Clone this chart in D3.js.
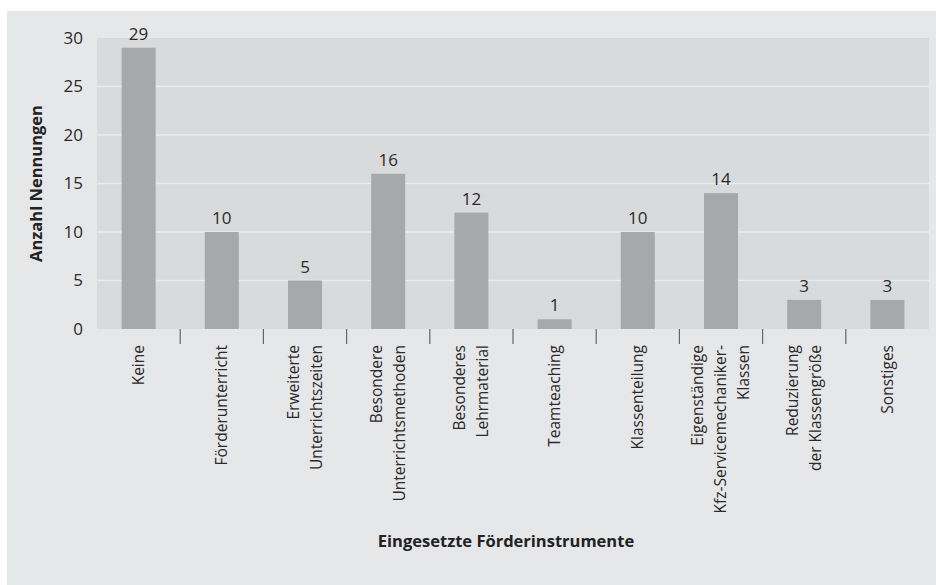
<!DOCTYPE html>
<html>
<head>
<meta charset="utf-8">
<script src="https://cdn.jsdelivr.net/npm/d3@7"></script>
<style>
    body { margin: 0; background: #fff; }
    svg { display: block; font-family: "Open Sans", "Noto Sans", sans-serif; }
</style>
</head>
<body>
<div id="chart"></div>
<script>
// categories (line breaks as in the original labels)
const categories = [
    ['Keine'],
    ['Förderunterricht'],
    ['Erweiterte', 'Unterrichtszeiten'],
    ['Besondere', 'Unterrichtsmethoden'],
    ['Besonderes', 'Lehrmaterial'],
    ['Teamteaching'],
    ['Klassenteilung'],
    ['Eigenständige', 'Kfz-Servicemechaniker-', 'Klassen'],
    ['Reduzierung', 'der Klassengröße'],
    ['Sonstiges']
];
const values = [29, 10, 5, 16, 12, 1, 10, 14, 3, 3];
const yTicks = [0, 5, 10, 15, 20, 25, 30];

const width = 936;
const height = 585;
const margin = { top: 38, right: 7, bottom: 256, left: 97 };

const svg = d3.select('#chart')
    .append('svg')
    .attr('width', width)
    .attr('height', height);

// outer panel
svg.append('rect')
    .attr('x', 7)
    .attr('y', 11)
    .attr('width', width - 7)
    .attr('height', height - 11)
    .attr('fill', '#e6e7e9');

const x = d3.scaleBand()
    .domain(d3.range(categories.length))
    .range([margin.left, width - margin.right])
    .paddingInner(0)
    .paddingOuter(0);

const y = d3.scaleLinear()
    .domain([0, 30])
    .range([height - margin.bottom, margin.top]);

// plot area
svg.append('rect')
    .attr('x', margin.left)
    .attr('y', y(30))
    .attr('width', x.range()[1] - margin.left)
    .attr('height', y(0) - y(30))
    .attr('fill', '#d9dadc');

// grid lines
svg.append('g')
    .selectAll('line')
    .data(yTicks.filter(d => d > 0 && d < 30))
    .join('line')
    .attr('x1', margin.left)
    .attr('x2', x.range()[1])
    .attr('y1', d => y(d))
    .attr('y2', d => y(d))
    .attr('stroke', '#ebecee')
    .attr('stroke-width', 1.5);

// y axis labels
const yAxis = svg.append('g')
    .attr('transform', `translate(${margin.left},0)`)
    .call(d3.axisLeft(y).tickValues(yTicks).tickSize(0).tickPadding(14));
yAxis.select('.domain').remove();
yAxis.selectAll('text')
    .attr('font-size', 17)
    .attr('fill', '#2a2a2a')
    .attr('font-family', '"Open Sans", sans-serif');

// bars
const barWidth = 34;
svg.append('g')
    .selectAll('rect')
    .data(values)
    .join('rect')
    .attr('x', (d, i) => x(i) + (x.bandwidth() - barWidth) / 2)
    .attr('y', d => y(d))
    .attr('width', barWidth)
    .attr('height', d => y(0) - y(d))
    .attr('fill', '#a7a8ab');

// value labels
svg.append('g')
    .selectAll('text')
    .data(values)
    .join('text')
    .attr('x', (d, i) => x(i) + x.bandwidth() / 2)
    .attr('y', d => y(d) - 8)
    .attr('text-anchor', 'middle')
    .attr('font-size', 17)
    .attr('fill', '#2a2a2a')
    .text(d => d);

// separator ticks between categories
svg.append('g')
    .selectAll('line')
    .data(d3.range(1, categories.length))
    .join('line')
    .attr('x1', i => x(i))
    .attr('x2', i => x(i))
    .attr('y1', y(0))
    .attr('y2', y(0) + 15)
    .attr('stroke', '#666')
    .attr('stroke-width', 1.2);

// rotated category labels
const lineGap = 23;
const labels = svg.append('g')
    .selectAll('text')
    .data(categories)
    .join('text')
    .attr('transform', (d, i) => `translate(${x(i) + x.bandwidth() / 2},${y(0) + 16}) rotate(-90)`)
    .attr('text-anchor', 'end')
    .attr('font-size', 15.5)
    .attr('fill', '#2a2a2a');

labels.each(function (lines) {
    const t = d3.select(this);
    const offset = -(lines.length - 1) / 2 * lineGap;
    lines.forEach((line, j) => {
        t.append('tspan')
            .attr('x', 0)
            .attr('y', offset + j * lineGap)
            .attr('dy', '0.35em')
            .text(line);
    });
});

// axis titles
svg.append('text')
    .attr('transform', `translate(42,${(y(0) + y(30)) / 2}) rotate(-90)`)
    .attr('text-anchor', 'middle')
    .attr('font-size', 16.5)
    .attr('font-weight', 'bold')
    .attr('fill', '#222')
    .text('Anzahl Nennungen');

svg.append('text')
    .attr('x', 506)
    .attr('y', 547)
    .attr('text-anchor', 'middle')
    .attr('font-size', 16.5)
    .attr('font-weight', 'bold')
    .attr('fill', '#222')
    .text('Eingesetzte Förderinstrumente');
</script>
</body>
</html>
